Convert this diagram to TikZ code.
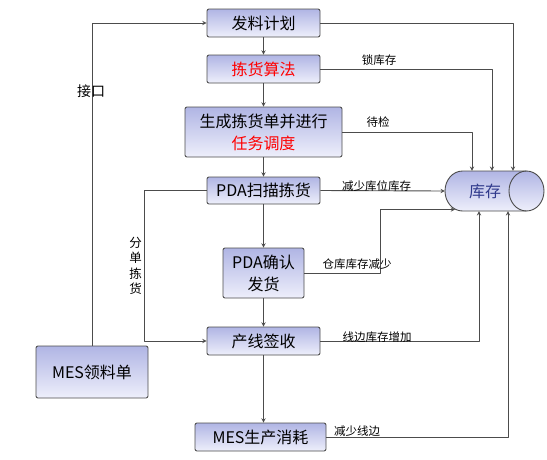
\documentclass[tikz,border=0pt]{standalone}
\usepackage{fontspec}
\setmainfont{Noto Sans CJK SC}
\definecolor{boxtop}{RGB}{176,181,228}
\definecolor{boxbot}{RGB}{238,239,251}
\definecolor{stocktext}{RGB}{48,58,140}

\begin{document}
\begin{tikzpicture}[x=1pt, y=-1pt, line join=round, >=stealth,
	box/.style={draw=black!70, line width=0.9pt, rounded corners=2pt, top color=boxtop, bottom color=boxbot,
		font=\fontsize{16}{22}\selectfont, align=center, inner sep=0pt, minimum height=28pt},
	lbl/.style={font=\fontsize{11.5}{13}\selectfont, inner sep=0pt},
	conn/.style={draw=black!70, line width=0.9pt}]
	\def \bw{113pt}
	\def \rx{17.5pt}
	\def \ry{20pt}
	\useasboundingbox (0,0) rectangle (547,459);
	% boxes
	\node[box, minimum width=\bw] (plan) at (263.5,23) {发料计划};
	\node[box, minimum width=\bw, text=red] (algo) at (263.5,69) {拣货算法};
	\node[box, minimum width=157pt, minimum height=50pt] (gen) at (263.5,132) {生成拣货单并进行\\\textcolor{red}{任务调度}};
	\node[box, minimum width=\bw, minimum height=27pt] (scan) at (263.5,190.5) {PDA扫描拣货};
	\node[box, minimum width=81pt, minimum height=50pt] (confirm) at (263.5,273) {PDA确认\\发货};
	\node[box, minimum width=\bw] (sign) at (263.5,341) {产线签收};
	\node[box, minimum width=131pt] (consume) at (260.5,437) {MES生产消耗};
	\node[box, minimum width=112pt, minimum height=52pt] (mes) at (92,372) {MES领料单};
	% stock cylinder
	\node[minimum width=99pt, minimum height=40pt, inner sep=0pt] (stock) at (494.5,191) {};
	\path[draw=black!70, line width=0.9pt, top color=boxtop, bottom color=boxbot]
		(462.5,171) -- (526.5,171) arc[start angle=90, end angle=-90, x radius=\rx, y radius=\ry]
		-- (462.5,211) arc[start angle=270, end angle=90, x radius=\rx, y radius=\ry] -- cycle;
	\draw[conn] (526.5,171) arc[start angle=90, end angle=270, x radius=\rx, y radius=\ry];
	\node[text=stocktext, font=\fontsize{16}{19}\selectfont, inner sep=0pt] (stocklbl) at (485,191) {库存};
	% main flow
	\draw[conn,->] (mes.north) |- (plan.west);
	\draw[conn,->] (plan) -- (algo);
	\draw[conn,->] (algo) -- (gen);
	\draw[conn,->] (gen) -- (scan);
	\draw[conn,->] (scan) -- (confirm);
	\draw[conn,->] (confirm) -- (sign);
	\draw[conn,->] (sign.south) -- (sign.south |- consume.north);
	\draw[conn,->] (scan.west) -- (144,0 |- scan.west) |- (sign.west);
	% to stock
	\draw[conn,->] (plan.east) -| (513,0 |- stock.north);
	\draw[conn,->] (algo.east) -| (492,0 |- stock.north);
	\draw[conn,->] (gen.east) -| (472,0 |- stock.north);
	\draw[conn,->] (scan.east) -- (stock.west);
	\draw[conn,->] (confirm.east) -| (380,209.5) -- (455,209.5);
	\draw[conn,->] (sign.east) -| (479,0 |- stock.south);
	\draw[conn,->] (consume.east) -| (508,0 |- stock.south);
	% labels
	\node[lbl, font=\fontsize{14}{16}\selectfont] (ljk) at (91,91) {接口};
	\node[lbl, align=center, font=\fontsize{12.5}{15.5}\selectfont] (lfd) at (135.5,266) {分\\单\\拣\\货};
	\node[lbl] (lsk) at (379,60) {锁库存};
	\node[lbl] (ldj) at (378,122) {待检};
	\node[lbl] (lkw) at (376.5,186) {减少库位库存};
	\node[lbl] (lck) at (357,264) {仓库库存减少};
	\node[lbl] (lxb) at (377,337) {线边库存增加};
	\node[lbl] (lxs) at (357,431) {减少线边};
\end{tikzpicture}
\end{document}
